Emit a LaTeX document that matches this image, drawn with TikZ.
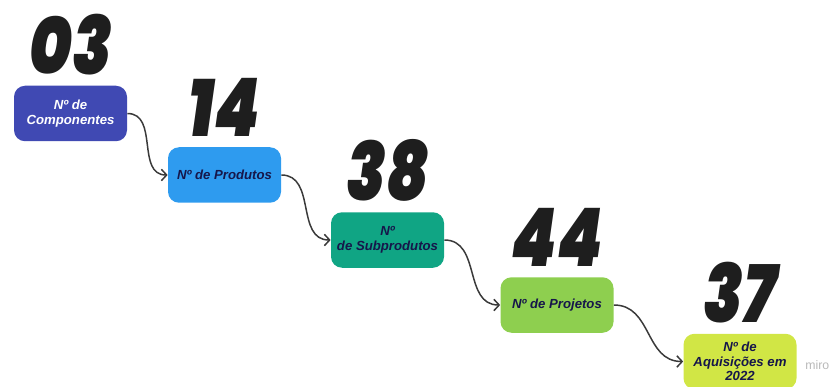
\documentclass[tikz,border=0pt]{standalone}
\usepackage{fontspec}
\setmainfont{Liberation Sans}
\newfontfamily\numfont{Poppins Black Italic}
\usepackage{tikz}
\usetikzlibrary{arrows.meta}
\usetikzlibrary{positioning}

\definecolor{cindigo}{HTML}{4049B3}
\definecolor{cblue}{HTML}{2E9BEF}
\definecolor{cteal}{HTML}{10A584}
\definecolor{cgreen}{HTML}{8ECF4F}
\definecolor{clime}{HTML}{D1E645}
\definecolor{cnavy}{HTML}{16164A}
\definecolor{cink}{HTML}{1E1E1E}
\definecolor{cwire}{HTML}{3A3A3A}

\newcommand{\tallnum}[1]{\scalebox{0.8}[1.0]{#1}}

\tikzset{
	stepbox/.style={rounded corners=2.2mm, minimum width=2.26cm, minimum height=1.11cm,
		align=center, inner sep=1pt, font=\fontsize{7.5}{8.4}\selectfont\bfseries\itshape},
	bignum/.style={inner sep=0pt, text=cink, font=\numfont\fontsize{46}{46}\selectfont},
	link/.style={draw=cwire, line width=0.85pt, -{Straight Barb[length=3pt,width=6.5pt]}}
}

\begin{document}
\begin{tikzpicture}
	\useasboundingbox (0,0) rectangle (16.66,-7.74);
	\foreach \i/\x/\y/\col/\tcol/\txt/\val in {
		1/1.41/-2.27/cindigo/white/{Nº de\\Componentes}/03,
		2/4.49/-3.50/cblue/cnavy/{Nº de Produtos}/14,
		3/7.75/-4.80/cteal/cnavy/{Nº\\de Subprodutos}/38,
		4/11.14/-6.10/cgreen/cnavy/{Nº de Projetos}/44,
		5/14.80/-7.23/clime/cnavy/{Nº de\\Aquisições em\\2022}/37} {
		\node[stepbox, fill=\col, text=\tcol] (box\i) at (\x,\y) {\txt};
		\node[bignum, above=2mm of box\i] (num\i) {\tallnum{\val}};
	};
	\foreach \i/\j in {1/2,2/3,3/4,4/5}
		\draw[link] (box\i.east) to[out=0, in=180, looseness=1.1] (box\j.west);
	\node[text=gray!55, inner sep=0pt, font=\fontsize{7}{8}\selectfont, anchor=west] (miro) at (16.1,-7.3) {miro};
\end{tikzpicture}
\end{document}
